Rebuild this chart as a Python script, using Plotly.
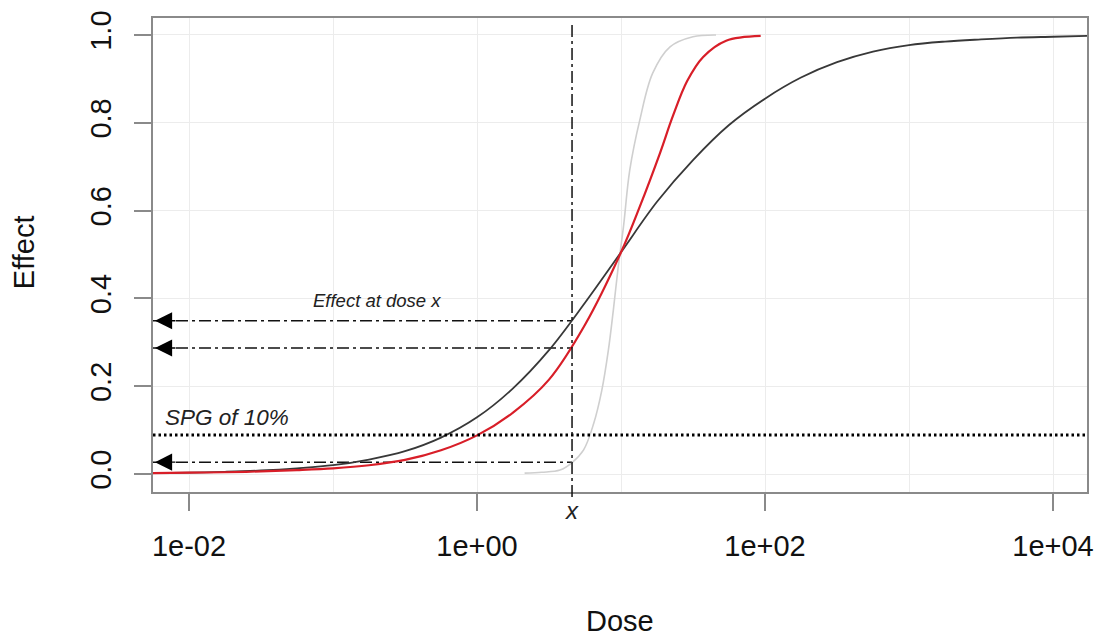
import math
import plotly.graph_objects as go

# ---------------- data ----------------
dark_dose = [0.005623, 0.01, 0.01778, 0.03162, 0.05623, 0.1, 0.1778, 0.3162, 0.5623, 1.0,
             1.778, 3.162, 5.623, 10.0, 17.78, 31.62, 56.23, 100, 177.8, 316.2, 562.3,
             1000, 1778, 3162, 5623, 10000, 17783]
dark_effect = [0.002, 0.003, 0.005, 0.008, 0.013, 0.020, 0.033, 0.052, 0.083, 0.129,
               0.195, 0.282, 0.39, 0.505, 0.62, 0.715, 0.795, 0.855, 0.903, 0.938, 0.962,
               0.977, 0.985, 0.990, 0.994, 0.996, 0.998]

red_dose = [0.005623, 0.01, 0.01778, 0.03162, 0.05623, 0.1, 0.1778, 0.3162, 0.5623, 1.0,
            1.778, 3.162, 5.623, 10.0, 13.5, 18.6, 22.9, 28.8, 37.2, 53.7, 93.3]
red_effect = [0.002, 0.003, 0.004, 0.006, 0.009, 0.013, 0.020, 0.032, 0.054, 0.088,
              0.14, 0.215, 0.34, 0.505, 0.609, 0.73, 0.815, 0.895, 0.95, 0.987, 0.998]

light_dose = [2.14, 2.82, 3.77, 4.57, 5.50, 6.46, 7.35, 8.17, 8.85, 9.55, 10.4, 11.5,
              13.5, 16.6, 21.9, 31.6, 45.7]
light_effect = [0.002, 0.004, 0.009, 0.026, 0.055, 0.115, 0.19, 0.282, 0.374, 0.47, 0.563, 0.692,
                0.806, 0.913, 0.973, 0.996, 1.0]

dose_x = 4.57                      # the dose "x"
effects_at_x = [0.349, 0.287, 0.027]
spg_level = 0.089

x_tick_vals = [0.01, 1, 100, 10000]
x_tick_text = ["1e-02", "1e+00", "1e+02", "1e+04"]
x_grid_minor = [0.1, 10, 1000]
y_tick_vals = [0.0, 0.2, 0.4, 0.6, 0.8, 1.0]

# ---------------- layout helpers ----------------
XR = [-2.25, 4.236]
YR = [-0.041, 1.0387]


def xpaper(d):
    return (math.log10(d) - XR[0]) / (XR[1] - XR[0])


FONT = "Liberation Sans, Arial, sans-serif"
DASHDOT = "12px,4px,3px,4px"

fig = go.Figure()

# dash-dot horizontal guides from y-axis to dose x
for lvl in effects_at_x:
    fig.add_trace(go.Scatter(x=[10 ** XR[0], dose_x], y=[lvl, lvl], mode="lines",
                             line=dict(color="#111111", width=1.5, dash=DASHDOT),
                             hoverinfo="skip", showlegend=False))

# curves
fig.add_trace(go.Scatter(x=light_dose, y=light_effect, mode="lines", line_shape="spline",
                         line=dict(color="#cfcfcf", width=1.6), showlegend=False))
fig.add_trace(go.Scatter(x=dark_dose, y=dark_effect, mode="lines", line_shape="spline",
                         line=dict(color="#383838", width=1.8), showlegend=False))
fig.add_trace(go.Scatter(x=red_dose, y=red_effect, mode="lines", line_shape="spline",
                         line=dict(color="#d81e28", width=2.2), showlegend=False))

shapes = [
    # SPG dotted line across the whole plot
    dict(type="line", xref="paper", yref="y", x0=0, x1=1, y0=spg_level, y1=spg_level,
         line=dict(color="#000000", width=3, dash="2.5px,3px")),
    # vertical dash-dot line at dose x
    dict(type="line", xref="paper", yref="paper", x0=xpaper(dose_x), x1=xpaper(dose_x),
         y0=-0.0105, y1=0.9916, line=dict(color="#111111", width=1.5, dash=DASHDOT)),
]

annotations = []
for lvl in effects_at_x:
    annotations.append(dict(xref="paper", yref="y", x=0.0021, y=lvl, ax=22, ay=0, text="",
                            showarrow=True, arrowhead=2, arrowsize=2.45, arrowwidth=1.4,
                            arrowcolor="#000000", standoff=0))

annotations += [
    dict(xref="paper", yref="paper", x=0.2398, y=0.403, text="<i>Effect at dose x</i>",
         showarrow=False, xanchor="center", yanchor="middle",
         font=dict(family=FONT, size=18.5, color="#222222")),
    dict(xref="paper", yref="paper", x=0.0107, y=0.158, text="<i>SPG of 10%</i>",
         showarrow=False, xanchor="left", yanchor="middle",
         font=dict(family=FONT, size=22.5, color="#222222")),
    dict(xref="paper", yref="paper", x=xpaper(dose_x), y=-0.038, text="<i>x</i>",
         showarrow=False, xanchor="center", yanchor="middle",
         font=dict(family=FONT, size=24, color="#222222")),
    dict(xref="paper", yref="paper", x=0.5, y=-0.272, text="Dose", showarrow=False,
         xanchor="center", yanchor="middle", font=dict(family=FONT, size=29, color="#111111")),
    dict(xref="paper", yref="paper", x=-0.1381, y=0.506, text="Effect", showarrow=False,
         textangle=-90, xanchor="center", yanchor="middle",
         font=dict(family=FONT, size=29, color="#111111")),
]

fig.update_layout(
    width=1098, height=635,
    margin=dict(l=153, r=11, t=18, b=143, autoexpand=False),
    paper_bgcolor="white", plot_bgcolor="white",
    font=dict(family=FONT, size=29, color="#111111"),
    shapes=shapes, annotations=annotations,
    showlegend=False,
)

fig.update_xaxes(type="log", range=XR, tickvals=x_tick_vals, ticktext=x_tick_text,
                 automargin=False,
                 showgrid=True, gridcolor="#ececec", gridwidth=1,
                 minor=dict(tickvals=x_grid_minor, showgrid=True, gridcolor="#ececec",
                            gridwidth=1, ticks=""),
                 showline=True, linecolor="#8a8a8a", linewidth=1.5, mirror=True,
                 ticks="outside", ticklen=17, tickwidth=1.5, tickcolor="#8a8a8a",
                 tickfont=dict(size=29, color="#111111"), zeroline=False,
                 ticklabelstandoff=10)
fig.update_yaxes(range=YR, tickvals=y_tick_vals, tickformat=".1f",
                 automargin=False,
                 showgrid=True, gridcolor="#ececec", gridwidth=1,
                 showline=True, linecolor="#8a8a8a", linewidth=1.5, mirror=True,
                 ticks="outside", ticklen=17, tickwidth=1.5, tickcolor="#8a8a8a",
                 tickangle=-90, tickfont=dict(size=29, color="#111111"), zeroline=False,
                 ticklabelstandoff=12)

fig.write_html("out.html", config={"displayModeBar": False},
               post_script="document.body.style.margin='0';document.body.style.overflow='hidden';")
